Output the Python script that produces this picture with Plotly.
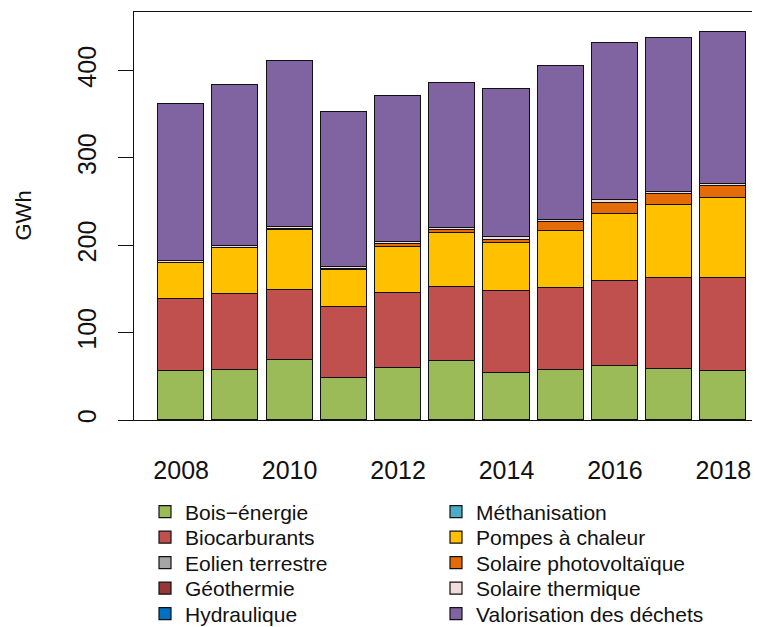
import plotly.graph_objects as go

years = [2008, 2009, 2010, 2011, 2012, 2013, 2014, 2015, 2016, 2017, 2018]

bois = [55.8, 57.7, 68.4, 48.2, 59.7, 67.2, 53.5, 57.0, 62.3, 58.9, 56.6]
biocarburants = [83.1, 86.6, 80.8, 81.2, 85.7, 85.4, 93.8, 93.7, 97.2, 103.3, 106.0]
eolien = [0, 0, 0, 0, 0, 0, 0, 0, 0, 0, 0]
geothermie = [0, 0, 0, 0, 0, 0, 0, 0, 0, 0, 0]
hydraulique = [0, 0, 0, 0, 0, 0, 0, 0, 0, 0, 0]
methanisation = [0, 0, 0, 0, 0, 0, 0, 0, 0, 0, 0]
pompes = [40.8, 52.6, 68.6, 41.9, 52.6, 61.4, 55.7, 66.0, 76.6, 83.8, 91.8]
solaire_pv = [0.3, 0.4, 0.6, 1.2, 3.0, 3.5, 3.5, 10.0, 12.5, 12.5, 13.0]
solaire_th = [2.0, 2.0, 2.4, 2.2, 2.5, 2.5, 2.5, 2.5, 3.2, 3.0, 3.2]
valorisation = [179.5, 183.6, 190.2, 178.0, 167.9, 166.0, 169.3, 176.5, 179.9, 176.3, 174.0]

x_ticks = [2008, 2010, 2012, 2014, 2016, 2018]
y_ticks = [0, 100, 200, 300, 400]

# (name, values, colour, legend row, rank within row)
series = [
    ("Bois\u2212énergie", bois, "#9BBB59", 1, 1),
    ("Biocarburants", biocarburants, "#C0504D", 2, 1),
    ("Eolien terrestre", eolien, "#A5A5A5", 3, 1),
    ("Géothermie", geothermie, "#953735", 4, 1),
    ("Hydraulique", hydraulique, "#0070C0", 5, 1),
    ("Méthanisation", methanisation, "#4BACC6", 1, 2),
    ("Pompes à chaleur", pompes, "#FFC000", 2, 2),
    ("Solaire photovoltaïque", solaire_pv, "#E36C09", 3, 2),
    ("Solaire thermique", solaire_th, "#F2DCDB", 4, 2),
    ("Valorisation des déchets", valorisation, "#8064A2", 5, 2),
]

FONT = "Liberation Sans, Arial, sans-serif"

# the page body adds an 8px margin; lay out in figure coordinates
OFF = 8
W, H = 760 - OFF, 640
plot_left, plot_right = 134 - OFF, 760 - OFF
plot_top, plot_bottom = 12 - OFF, 420 - OFF
plot_w = plot_right - plot_left
plot_h = plot_bottom - plot_top
row_centers = [v - OFF for v in (512, 537.5, 563, 588.5, 614)]

fig = go.Figure()
for name, vals, col, row, rank in series:
    fig.add_trace(go.Bar(
        x=years, y=vals, name=name, width=0.85,
        marker=dict(color=col, line=dict(color="#111111", width=1.2)),
        legend="legend" if row == 1 else f"legend{row}",
        legendrank=rank,
    ))

layout_legends = {}
for i, yc in enumerate(row_centers, start=1):
    key = "legend" if i == 1 else f"legend{i}"
    layout_legends[key] = dict(
        orientation="h",
        x=(145 - OFF - plot_left) / plot_w, xanchor="left",
        y=(plot_bottom - yc) / plot_h, yanchor="middle",
        font=dict(family=FONT, size=21, color="#111111"),
        entrywidth=246, entrywidthmode="pixels",
        bgcolor="rgba(0,0,0,0)", borderwidth=0,
        traceorder="normal",
    )

fig.update_layout(
    width=W, height=H,
    margin=dict(l=plot_left, r=W - plot_right, t=plot_top, b=H - plot_bottom,
                pad=0, autoexpand=False),
    barmode="stack",
    bargap=0,
    plot_bgcolor="white", paper_bgcolor="white",
    font=dict(family=FONT, size=25, color="#111111"),
    showlegend=True,
    **layout_legends,
)

fig.update_xaxes(
    range=[2007.13, 2018.675],
    tickvals=x_ticks, ticktext=[str(v) for v in x_ticks],
    showgrid=False, zeroline=False, automargin=False,
    showline=True, mirror=True, linecolor="#111111", linewidth=1,
    ticks="", ticklabelstandoff=28,
    tickfont=dict(family=FONT, size=25, color="#111111"),
)
fig.update_yaxes(
    range=[0, 467],
    tickvals=y_ticks, ticktext=[str(v) for v in y_ticks],
    showgrid=False, zeroline=False, automargin=False,
    showline=True, linecolor="#111111", linewidth=1,
    ticks="outside", ticklen=15, tickwidth=1, tickcolor="#111111",
    tickangle=-90, ticklabelstandoff=12,
    tickfont=dict(family=FONT, size=25, color="#111111"),
)

fig.add_annotation(
    text="GWh", textangle=-90,
    xref="paper", yref="paper",
    x=(22.5 - OFF - plot_left) / plot_w, y=0.5, xanchor="center", yanchor="middle",
    showarrow=False,
    font=dict(family=FONT, size=22, color="#111111"),
)

fig.write_html("out.html")
